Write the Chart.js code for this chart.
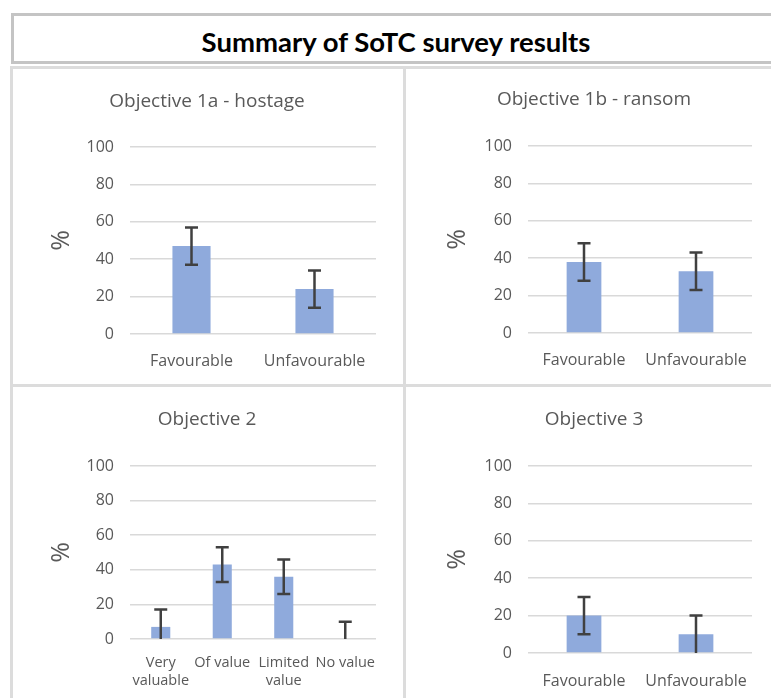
<!DOCTYPE html>
<html>
<head>
<meta charset="utf-8">
<title>Summary of SoTC survey results</title>
<script src="https://cdn.jsdelivr.net/npm/chart.js@4.4.0/dist/chart.umd.min.js"></script>
<style>
  body { margin: 0; background: #fff; width: 771px; height: 698px; overflow: hidden; position: relative; }
  .line { position: absolute; background: #dcdcdc; }
  #head {
    position: absolute; left: 11px; top: 13px; width: 764px; height: 45px;
    border: 3px solid #c4c4c4; font-family: Lato, sans-serif; font-weight: bold;
    font-size: 27.5px; text-align: center; line-height: 51px; color: #000;
    box-sizing: content-box; overflow: hidden;
  }
  canvas { position: absolute; }
</style>
</head>
<body>
<div id="head">Summary of SoTC survey results</div>
<div class="line" style="left:10px;top:66px;width:761px;height:3px"></div>
<div class="line" style="left:10px;top:66px;width:3px;height:632px"></div>
<div class="line" style="left:403px;top:66px;width:3px;height:632px"></div>
<div class="line" style="left:10px;top:384px;width:761px;height:3px"></div>

<canvas id="c1a" width="390" height="315" style="left:13px;top:69px"></canvas>
<canvas id="c1b" width="365" height="315" style="left:406px;top:69px"></canvas>
<canvas id="c2" width="390" height="311" style="left:13px;top:387px"></canvas>
<canvas id="c3" width="365" height="311" style="left:406px;top:387px"></canvas>

<script>
// data
const yTicks = [0, 20, 40, 60, 80, 100];

const obj1aLabels = ["Favourable", "Unfavourable"];
const obj1aValues = [47, 24];
const obj1aErrors = [10, 10];

const obj1bLabels = ["Favourable", "Unfavourable"];
const obj1bValues = [38, 33];
const obj1bErrors = [10, 10];

const obj2Labels = [["Very", "valuable"], "Of value", ["Limited", "value"], "No value"];
const obj2Values = [7, 43, 36, 0];
const obj2Errors = [10, 10, 10, 10];

const obj3Labels = ["Favourable", "Unfavourable"];
const obj3Values = [20, 10];
const obj3Errors = [10, 10];

const grey = "#595959";

// error bars drawn from the y scale, clipped at the axis like Excel does
const errorBars = {
  id: "errorBars",
  afterDatasetsDraw(chart) {
    const ctx = chart.ctx;
    const y = chart.scales.y;
    const ds = chart.data.datasets[0];
    const meta = chart.getDatasetMeta(0);
    ctx.save();
    ctx.strokeStyle = "#404040";
    ctx.lineWidth = 2.5;
    meta.data.forEach(function (bar, i) {
      const v = ds.data[i];
      const low = v - ds.errors[i];
      const top = y.getPixelForValue(v + ds.errors[i]);
      const bot = y.getPixelForValue(Math.max(low, 0));
      ctx.beginPath();
      ctx.moveTo(bar.x, top);
      ctx.lineTo(bar.x, bot);
      ctx.moveTo(bar.x - 6.5, top);
      ctx.lineTo(bar.x + 6.5, top);
      if (low > 0) {
        ctx.moveTo(bar.x - 6.5, bot);
        ctx.lineTo(bar.x + 6.5, bot);
      }
      ctx.stroke();
    });
    ctx.restore();
  }
};

function makeChart(id, title, labels, values, errors, lay) {
  return new Chart(document.getElementById(id), {
    type: "bar",
    data: {
      labels: labels,
      datasets: [{
        data: values,
        errors: errors,
        backgroundColor: "#8faadc",
        barPercentage: 0.31,
        categoryPercentage: 1,
      }],
    },
    plugins: [errorBars],
    options: {
      responsive: false,
      animation: false,
      layout: { padding: { left: lay.padL, right: lay.padR, top: 0, bottom: 0 } },
      plugins: {
        legend: { display: false },
        tooltip: { enabled: false },
        title: {
          display: true,
          text: title,
          color: grey,
          font: { family: "'Open Sans'", size: 19, weight: "normal", lineHeight: 1.2 },
          padding: { top: lay.titleTop, bottom: lay.titleBottom },
        },
      },
      scales: {
        x: {
          grid: { display: false },
          border: { display: false },
          ticks: {
            color: grey,
            font: { family: "'Open Sans'", size: lay.xFont, lineHeight: 1.3 },
            padding: lay.xPad,
            autoSkip: false,
            maxRotation: 0,
          },
          afterFit: function (scale) { scale.height = lay.xHeight; },
        },
        y: {
          min: 0,
          max: 100,
          afterBuildTicks: function (scale) {
            scale.ticks = yTicks.map(function (v) { return { value: v }; });
          },
          grid: { color: "#d9d9d9", lineWidth: 1.5, drawTicks: false },
          border: { display: false },
          ticks: {
            color: grey,
            font: { family: "'Open Sans'", size: 16 },
            padding: 16,
          },
          title: {
            display: true,
            text: "%",
            color: grey,
            font: { family: "'Open Sans'", size: 25, lineHeight: 1.2 },
            padding: { top: lay.pctPad, bottom: 0 },
          },
          afterFit: function (scale) { scale.width = 92; },
        },
      },
    },
  });
}

makeChart("c1a", "Objective 1a - hostage", obj1aLabels, obj1aValues, obj1aErrors,
  { padL: 25, padR: 27, titleTop: 21.6, titleBottom: 33.6, xHeight: 50, xPad: 9, xFont: 16, pctPad: 9 });
makeChart("c1b", "Objective 1b - ransom", obj1bLabels, obj1bValues, obj1bErrors,
  { padL: 30, padR: 19, titleTop: 19.6, titleBottom: 34.6, xHeight: 51, xPad: 9, xFont: 16, pctPad: 7 });
makeChart("c2", "Objective 2", obj2Labels, obj2Values, obj2Errors,
  { padL: 25, padR: 27, titleTop: 21.6, titleBottom: 34.6, xHeight: 59, xPad: 6, xFont: 14.5, pctPad: 9 });
makeChart("c3", "Objective 3", obj3Labels, obj3Values, obj3Errors,
  { padL: 30, padR: 19, titleTop: 21.6, titleBottom: 34.6, xHeight: 45, xPad: 10, xFont: 16, pctPad: 7 });
</script>
</body>
</html>
